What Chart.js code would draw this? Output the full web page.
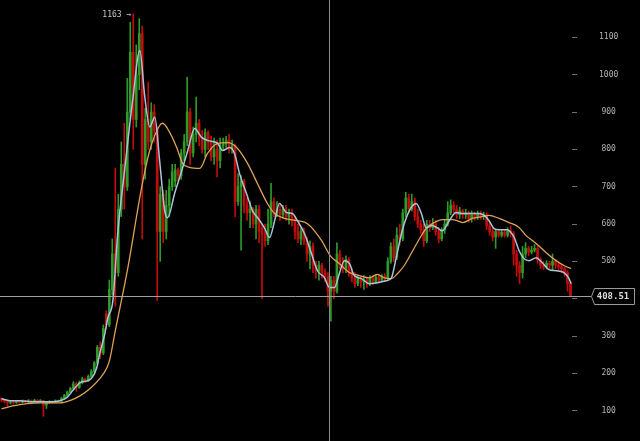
<!DOCTYPE html>
<html>
<head>
<meta charset="utf-8">
<script src="https://cdn.jsdelivr.net/npm/chart.js@4/dist/chart.umd.min.js"></script>
<style>
  html, body { margin: 0; padding: 0; background: #000; }
  #wrap { width: 640px; height: 441px; position: relative; }
</style>
</head>
<body>
<div id="wrap"><canvas id="chart"></canvas></div>
<script>
// candles, one per period
const open = [
  132,128,125,122,124,122,125,123,126,124, 127,125,128,126,127,115,122,125,124,127,
  126,133,141,150,160,172,163,176,185,180, 192,205,228,270,255,360,330,425,520,470,
  640,760,700,900,1060,880,1000,1110,760,880, 820,900,850,580,680,580,650,700,715,745,
  730,790,820,900,790,840,870,830,800,845, 820,780,800,770,810,815,825,800,810,660,
  700,715,650,630,640,600,640,590,575,555, 600,660,630,640,625,640,620,630,610,580,
  560,580,555,520,540,490,475,490,470,460, 420,450,420,520,490,480,505,470,455,440,
  455,445,450,440,455,445,458,450,460,455, 500,540,510,570,560,630,670,640,660,620,
  600,585,555,600,590,600,580,560,585,600, 630,650,640,625,635,625,630,615,625,618,
  628,620,625,595,580,565,580,570,578,570, 582,575,520,490,470,520,535,525,530,535,
  505,490,485,495,490,500,490,485,480,470,440
];
const high = [
  135,131,128,127,126,128,127,129,128,130, 129,131,130,130,128,125,127,127,129,129,
  136,144,153,163,178,176,180,190,188,196, 210,232,275,285,330,368,450,560,750,680,
  820,870,990,1140,1163,1080,1150,1130,910,980, 925,920,860,700,690,690,720,760,760,750,
  800,840,993,910,860,940,880,850,855,850, 835,830,825,830,830,835,840,825,815,735,
  730,720,670,660,645,650,650,600,600,640, 709,670,660,650,650,650,640,640,620,600,
  590,590,565,555,550,500,500,495,480,470, 460,460,550,530,510,515,510,480,470,462,
  460,462,458,462,462,465,465,465,467,510, 550,560,590,600,640,685,680,680,670,640,
  610,600,610,610,615,610,590,590,610,660, 665,660,650,645,640,640,635,635,632,635,
  635,632,630,605,590,585,585,585,585,590, 595,580,530,500,540,550,540,540,545,540,
  510,500,502,500,520,505,495,492,485,475,445
];
const low = [
  124,121,112,118,118,120,120,121,121,122, 122,123,123,124,85,106,119,120,122,123,
  124,131,138,147,157,152,160,172,176,178, 189,202,224,240,250,320,325,410,380,460,
  620,640,690,880,800,860,960,560,720,800, 800,820,395,500,550,560,620,690,700,715,
  720,770,810,760,780,820,810,790,780,800, 770,760,726,750,800,805,790,790,620,650,
  530,630,610,590,590,560,550,400,540,545, 590,620,620,610,615,610,600,595,560,550,
  545,545,500,480,470,455,450,455,445,380, 340,400,415,480,470,470,460,445,430,435,
  430,425,430,435,438,440,442,445,448,450, 495,500,505,545,555,620,630,635,610,590,
  575,540,550,580,585,570,550,555,575,595, 625,630,615,615,615,615,605,605,610,612,
  612,612,585,570,555,535,565,565,565,565, 565,490,460,440,455,510,515,520,525,495,
  480,478,480,480,475,480,475,470,460,420,405
];
const close = [
  128,125,122,124,122,125,123,126,124,127, 125,128,126,127,115,122,125,124,127,126,
  133,141,150,160,172,163,176,185,180,192, 205,228,270,255,320,330,425,520,470,640,
  760,700,900,1060,880,1000,1110,760,880,820, 900,850,580,680,580,650,700,740,745,730,
  790,820,900,790,840,870,830,800,845,820, 780,800,770,810,815,825,800,810,660,700,
  715,650,630,640,600,640,580,575,555,600, 660,630,640,625,640,620,630,610,580,560,
  580,555,520,540,490,475,490,470,460,420, 450,420,520,490,480,505,470,455,440,455,
  445,450,440,455,445,458,450,460,455,500, 540,510,570,560,630,670,640,660,620,600,
  585,555,600,590,600,580,560,585,600,630, 650,640,625,635,625,630,615,625,618,628,
  620,625,595,580,565,580,570,578,570,582, 575,520,490,470,520,535,525,530,535,505,
  490,485,495,490,500,490,485,480,470,440,408.51
];

// moving averages as drawn: [candle index, price]
const fastMA = [
  [0,132],[2.8,127],[6.2,127],[10.5,124],[15.2,124],[17.2,124],[19.5,127],[21.8,135],[23.8,154],[26.2,175],
  [28.5,180],[30.2,188],[31.8,215],[32.8,253],[34.5,306],[35.5,349],[37.2,395],[38.8,574],[41.2,751],[43.8,931],
  [46.2,1065],[47.8,944],[49.5,860],[51.2,886],[52.8,770],[54.5,636],[55.5,617],[57.8,682],[60.2,743],[62.2,797],
  [64.5,856],[66.8,832],[68.8,824],[72.2,816],[73.8,797],[76.2,805],[77.8,789],[79.5,735],[81.8,682],[83.8,636],
  [85.5,617],[87.8,590],[89.5,564],[91.2,609],[92.8,655],[95.2,631],[97.2,628],[98.8,609],[101.2,574],[103.5,521],
  [105.5,475],[107.8,457],[109.5,430],[111.2,430],[112.8,467],[114.5,502],[116.2,494],[117.8,462],[120.2,454],[122.8,440],
  [125.5,443],[128.5,448],[130.2,456],[131.8,510],[133.8,582],[136.2,636],[138.5,655],[140.2,628],[141.8,590],[143.8,596],
  [145.5,590],[147.2,582],[149.5,609],[151.8,631],[153.8,628],[156.2,628],[159.5,628],[161.2,623],[162.8,609],[164.5,588],
  [166.2,585],[168.8,585],[171.2,564],[172.8,529],[174.5,507],[176.2,502],[178.5,510],[180.5,497],[182.8,478],[185.2,475],
  [187.8,470],[189.5,454],[190.2,440]
];
const slowMA = [
  [0,105],[3.8,113],[8.5,119],[13.8,121],[19.5,121],[22.8,127],[26.2,140],[29.5,159],[32.8,186],[35.2,215],
  [36.2,239],[37.8,306],[42.2,483],[46.8,698],[49.5,797],[52.8,864],[53.8,870],[56.2,845],[58.5,805],[60.5,762],
  [62.8,752],[66.2,749],[68.8,789],[72.2,816],[75.5,818],[78.5,805],[82.2,762],[85.5,708],[88.8,655],[91.2,628],
  [94.5,615],[98.8,609],[102.2,601],[106.8,557],[109.8,515],[112.8,494],[116.2,470],[119.5,462],[122.8,456],[125.5,465],
  [127.8,456],[130.2,454],[132.2,467],[134.5,489],[136.8,521],[138.8,550],[141.8,588],[144.5,604],[147.2,612],[150.5,612],
  [152.8,607],[154,604],[157.2,615],[160.5,620],[162.8,623],[166.2,615],[169.5,604],[172.8,591],[175.2,569],[178.5,548],
  [181.8,524],[185.2,502],[187.8,489],[190.2,481]
];

const yTicks = [100, 200, 300, 400, 500, 600, 700, 800, 900, 1000, 1100];
const lastPrice = 408.51;
const crossIndex = 109.2;

const UP = '#2f9a28';
const DOWN = '#c20c0c';
const colorOf = i => close[i] >= open[i] ? UP : DOWN;
const candleColors = close.map((c, i) => colorOf(i));

const overlay = {
  id: 'overlay',
  afterDraw(chart) {
    const { ctx, scales: { x, y } } = chart;
    const H = chart.height;
    const py = Math.round(y.getPixelForValue(lastPrice)) + 0.5;
    const px = Math.round(x.getPixelForValue(crossIndex)) + 0.5;
    ctx.save();
    ctx.lineWidth = 1;
    // crosshair
    ctx.strokeStyle = '#8c8c8c';
    ctx.beginPath(); ctx.moveTo(px, 0); ctx.lineTo(px, H); ctx.stroke();
    ctx.strokeStyle = '#a0a0a0';
    ctx.beginPath(); ctx.moveTo(0, py); ctx.lineTo(591, py); ctx.stroke();
    // price tag
    ctx.fillStyle = '#000';
    ctx.strokeStyle = '#9a9a9a';
    ctx.beginPath();
    ctx.moveTo(591.5, py);
    ctx.lineTo(594.5, py - 8);
    ctx.lineTo(634.5, py - 8);
    ctx.lineTo(634.5, py + 8);
    ctx.lineTo(594.5, py + 8);
    ctx.closePath();
    ctx.fill(); ctx.stroke();
    ctx.fillStyle = '#dcdcdc';
    ctx.font = 'bold 9px "DejaVu Sans Mono", monospace';
    ctx.textAlign = 'center';
    ctx.textBaseline = 'middle';
    ctx.fillText(lastPrice.toFixed(2), 613, py);
    // highest high marker
    let hi = 0;
    high.forEach((v, i) => { if (v > high[hi]) hi = i; });
    const hx = x.getPixelForValue(hi), hy = y.getPixelForValue(high[hi]);
    ctx.fillStyle = '#c8c8c8';
    ctx.font = '8px "DejaVu Sans Mono", monospace';
    ctx.textAlign = 'right';
    ctx.fillText(high[hi] + ' \u2192', hx - 2, hy + 1);
    ctx.restore();
  }
};

new Chart(document.getElementById('chart'), {
  type: 'bar',
  data: {
    datasets: [
      {
        type: 'line',
        data: fastMA.map(([i, v]) => ({ x: i, y: v })),
        borderColor: '#a9c5d9',
        borderWidth: 1.5,
        pointRadius: 0,
        cubicInterpolationMode: 'monotone',
        order: 0
      },
      {
        type: 'line',
        data: slowMA.map(([i, v]) => ({ x: i, y: v })),
        borderColor: '#dea258',
        borderWidth: 1.3,
        pointRadius: 0,
        cubicInterpolationMode: 'monotone',
        order: 1
      },
      {
        type: 'bar',
        data: close.map((c, i) => ({ x: i, y: [open[i], c] })),
        backgroundColor: candleColors,
        barThickness: 2,
        grouped: false,
        order: 2
      },
      {
        type: 'bar',
        data: close.map((c, i) => ({ x: i, y: [low[i], high[i]] })),
        backgroundColor: candleColors,
        barThickness: 1,
        grouped: false,
        order: 3
      }
    ]
  },
  options: {
    responsive: true,
    maintainAspectRatio: false,
    animation: false,
    layout: { padding: 0 },
    plugins: { legend: { display: false }, tooltip: { enabled: false } },
    scales: {
      x: { type: 'linear', min: -0.5, max: close.length - 0.5, display: false, offset: false },
      y: {
        position: 'right',
        min: 19,
        max: 1200,
        afterBuildTicks: s => { s.ticks = yTicks.map(v => ({ value: v })); },
        afterFit: s => { s.width = 68; s.paddingTop = 0; s.paddingBottom = 0; },
        grid: { drawOnChartArea: false, drawTicks: true, tickLength: 5, tickColor: '#6e6e6e' },
        border: { display: false },
        ticks: {
          crossAlign: 'center',
          padding: 22,
          color: '#b0b4b8',
          font: { family: 'DejaVu Sans Mono', size: 8 },
          callback: v => String(v)
        }
      }
    }
  },
  plugins: [overlay]
});
</script>
</body>
</html>
